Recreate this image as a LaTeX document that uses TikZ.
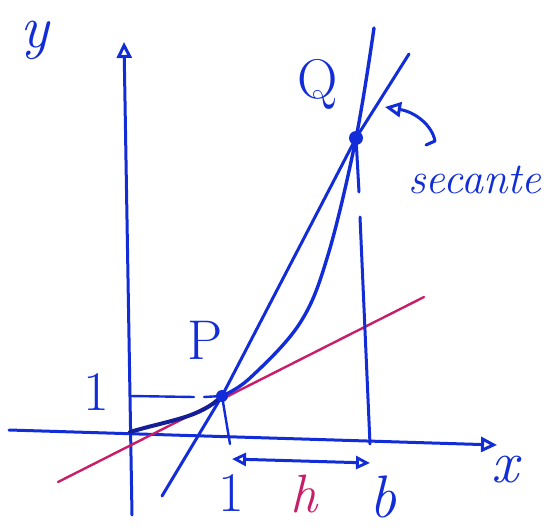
\documentclass[tikz,border=0pt]{standalone}
\usetikzlibrary{arrows.meta}
\definecolor{penblue}{RGB}{18,45,215}
\definecolor{darkpen}{RGB}{20,30,150}
\definecolor{inkred}{RGB}{200,30,105}
\begin{document}
\begin{tikzpicture}[x=1pt,y=-1pt,
  pen/.style={draw=penblue, line width=3pt, line cap=round, line join=round},
  redpen/.style={draw=inkred, line width=2.4pt, line cap=round},
  tip/.style={-{Triangle[open,length=16pt,width=15pt,line width=3pt]}},
  twotip/.style={{Triangle[open,length=14pt,width=13pt,line width=2.8pt]}-{Triangle[open,length=14pt,width=13pt,line width=2.8pt]}},
  lbl/.style={text=penblue, inner sep=0pt, font=\fontsize{56}{56}\selectfont},
  ilbl/.style={text=penblue, inner sep=0pt, font=\fontsize{60}{60}\selectfont\itshape}]
\useasboundingbox (0,0) rectangle (547,532);
% key points
\coordinate (O) at (130,432);
\coordinate (xs) at (9,430);
\coordinate (xe) at (497,445);
\coordinate (ys) at (132,515);
\coordinate (ye) at (124,42);
\coordinate (P) at (222,396);
\coordinate (Q) at (356,138);
\coordinate (x1) at (230,444);
\coordinate (xb) at (370,444);
\coordinate (y1) at (130,396);
\coordinate (g1) at (194,397);
\coordinate (g2) at (204,397);
\coordinate (bg1) at (359,192);
\coordinate (bg2) at (360,217);
\coordinate (s1) at (162,496);
\coordinate (s2) at (409,54);
\coordinate (t1) at (58,482);
\coordinate (t2) at (424,297);
\coordinate (c2) at (374,28);
\coordinate (h1) at (232,459);
\coordinate (h2) at (370,463);
\coordinate (a0) at (426,145);
\coordinate (a1) at (435,141);
\coordinate (aQ) at (385,107);
% axes
\draw[pen,tip] (xs) -- (xe);
\draw[pen,tip] (ys) -- (ye);
% tangent
\draw[redpen] (t1) -- (t2);
% guides
\draw[pen,line width=2.4pt] (y1) -- (g1);
\draw[pen,line width=2.4pt] (g2) -- (P);
\draw[pen,line width=2.4pt] (P) -- (x1);
\draw[pen] (Q) -- (bg1);
\draw[pen] (bg2) -- (xb);
% secant
\draw[pen] (s1) -- (P) -- (Q) -- (s2);
% curve
\draw[draw=darkpen, line width=4pt, line cap=round] (O) .. controls (170,420) and (200,418) .. (P);
\draw[pen,line width=3.4pt] plot[smooth, tension=0.6] coordinates {(P) (250,378) (300,323) (328,255) (Q) (c2)};
% points
\fill[penblue] (P) circle (6pt);
\fill[penblue] (Q) circle (7pt);
% h arrow
\draw[pen,twotip] (h1) -- (h2);
% secante arrow
\draw[pen,tip] (a0) -- (a1) .. controls (432,125) and (415,112) .. (aQ);
% labels
\node[ilbl] (ylab) at (35,40) {y};
\node[ilbl] (xlab) at (505,470) {x};
\node[lbl] (one1) at (96,392) {1};
\node[lbl] (one2) at (231,493) {1};
\node[ilbl] (blab) at (383,497) {b};
\node[ilbl, text=inkred, font=\fontsize{54}{54}\selectfont\itshape] (hlab) at (304,494) {h};
\node[lbl] (Plab) at (205,340) {P};
\node[lbl] (Qlab) at (318,84) {Q};
\node[text=penblue, inner sep=0pt, anchor=west, font=\fontsize{44}{44}\selectfont\itshape] (sec) at (408,180) {secante};
\end{tikzpicture}
\end{document}
